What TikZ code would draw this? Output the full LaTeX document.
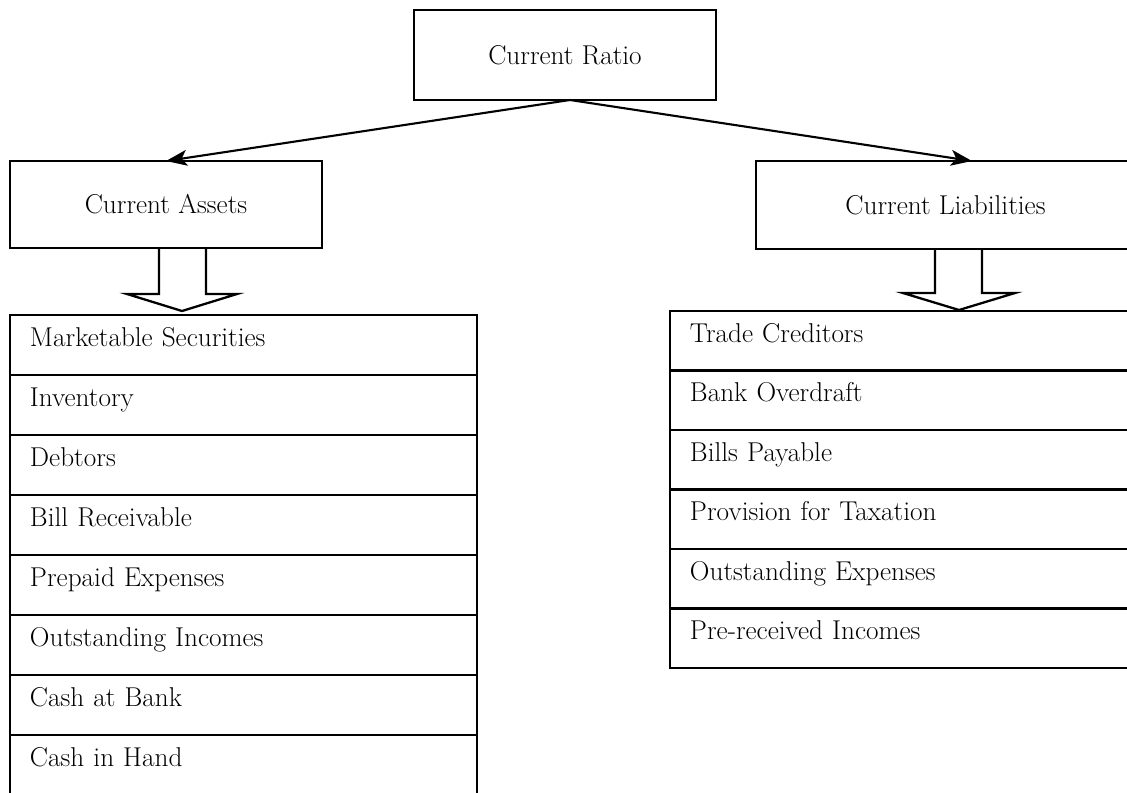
\documentclass[tikz,border=0pt]{standalone}
\usetikzlibrary{arrows.meta,positioning,calc}
\begin{document}
\begin{tikzpicture}[
    x=0.02cm, y=-0.02cm,
    font=\fontsize{15.5}{18}\selectfont,
    node distance=0pt,
    box/.style={rectangle, draw, line width=1.5pt, outer sep=0pt, align=center},
    row/.style={rectangle, draw, line width=1.2pt, outer sep=0pt, minimum height=1.2cm, text width=8.54cm, inner xsep=0.4cm, align=left, text height=10pt, text depth=8pt},
    link/.style={-{Stealth[length=12pt,width=9pt,inset=3pt]}, line width=1.2pt},
    blockarrow/.style={line width=1.3pt, line join=miter}
]
    \useasboundingbox (0,0) rectangle (1127,792);

    % --- Top ---
    \node[box, minimum width=6.04cm, minimum height=1.8cm] (cr) at (565,55) {Current Ratio};

    % --- Two sides ---
    \node[box, minimum width=6.24cm, minimum height=1.74cm] (ca) at (166,204.5) {Current Assets};
    \node[box, minimum width=7.58cm, minimum height=1.76cm] (cl) at (945.5,205) {Current Liabilities};

    \draw[link] ([xshift=0.1cm]cr.south) -- (ca.north);
    \draw[link] ([xshift=0.1cm]cr.south) -- ([xshift=0.53cm]cl.north);

    % Block arrows
    \draw[blockarrow] (159,248) -- (159,294) -- (127,294) -- (182,311) -- (237,294) -- (206,294) -- (206,248);
    \draw[blockarrow] (935,249) -- (935,293) -- (903,293) -- (959,310) -- (1015,293) -- (982,293) -- (982,249);

    % --- Left: assets list ---
    \node[row, anchor=north west] (ca1) at (10,315) {Marketable Securities};
    \node[row, below=of ca1] (ca2) {Inventory};
    \node[row, below=of ca2] (ca3) {Debtors};
    \node[row, below=of ca3] (ca4) {Bill Receivable};
    \node[row, below=of ca4] (ca5) {Prepaid Expenses};
    \node[row, below=of ca5] (ca6) {Outstanding Incomes};
    \node[row, below=of ca6] (ca7) {Cash at Bank};
    \node[row, below=of ca7] (ca8) {Cash in Hand};

    % --- Right: liabilities list ---
    \node[row, anchor=north west, minimum height=1.19cm] (cl1) at (670,311) {Trade Creditors};
    \node[row, below=of cl1, minimum height=1.19cm] (cl2) {Bank Overdraft};
    \node[row, below=of cl2, minimum height=1.19cm] (cl3) {Bills Payable};
    \node[row, below=of cl3, minimum height=1.19cm] (cl4) {Provision for Taxation};
    \node[row, below=of cl4, minimum height=1.19cm] (cl5) {Outstanding Expenses};
    \node[row, below=of cl5, minimum height=1.19cm] (cl6) {Pre-received Incomes};

\end{tikzpicture}
\end{document}
